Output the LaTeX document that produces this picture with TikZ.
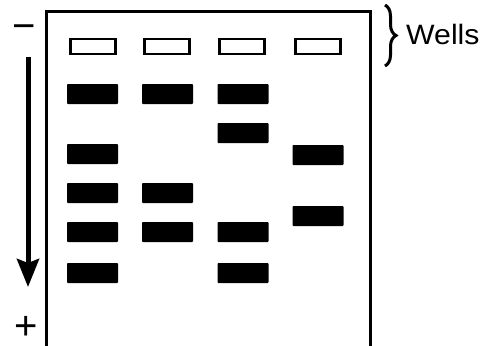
\documentclass[tikz,border=0pt]{standalone}
\usepackage{fontspec}
\setmainfont{Liberation Sans}
\usepackage{tikz}
\usetikzlibrary{positioning,arrows.meta,decorations.pathreplacing}

\begin{document}
\begin{tikzpicture}[x=1pt, y=-1pt,
    well/.style={draw, rectangle, line width=2.2pt, minimum width=45pt, minimum height=15pt, inner sep=0pt},
    band/.style={rectangle, fill=black, rounded corners=0.8pt, minimum width=51pt, minimum height=20pt, inner sep=0pt},
    sign/.style={inner sep=0pt, anchor=base, font=\fontsize{40}{44}\selectfont}]
    \useasboundingbox (0,0) rectangle (483,346);

    % gel, open at the bottom
    \coordinate (gbl) at (46,346);
    \coordinate (gtl) at (46,11);
    \coordinate (gtr) at (370,11);
    \coordinate (gbr) at (370,346);
    \draw[line width=3pt, line join=miter] (gbl) -- (gtl) -- (gtr) -- (gbr);

    % wells
    \node[well] (w1) at (93,46.5) {};
    \node[well] (w2) at (167,46.5) {};
    \node[well] (w3) at (242,46.5) {};
    \node[well] (w4) at (318,46.5) {};

    % bands, lane by lane
    \node[band] (b11) at (92.5,94) {};
    \node[band] (b12) at (92.5,154) {};
    \node[band] (b13) at (92.5,193) {};
    \node[band] (b14) at (92.5,232) {};
    \node[band] (b15) at (92.5,273) {};

    \node[band] (b21) at (167.5,94) {};
    \node[band] (b22) at (167.5,193) {};
    \node[band] (b23) at (167.5,232) {};

    \node[band] (b31) at (243,94) {};
    \node[band] (b32) at (243,133) {};
    \node[band] (b33) at (243,232) {};
    \node[band] (b34) at (243,273) {};

    \node[band] (b41) at (318,155) {};
    \node[band] (b42) at (318,216) {};

    % electrodes and direction of run
    \node[sign] (neg) at (24.5,39) {−};
    \node[sign] (pos) at (26,339) {+};
    \coordinate (runtop) at (28,57);
    \coordinate (runend) at (28,287);
    \draw[line width=5pt, -{Stealth[length=28pt, width=22pt, inset=4pt]}] (runtop) -- (runend);

    % label for the wells
    \coordinate (brtop) at (385,5);
    \coordinate (brbot) at (385,66);
    \draw[line width=3pt, decorate, decoration={brace, amplitude=11pt}] (brtop) -- (brbot);
    \node[anchor=west, inner sep=0pt, xscale=1.08, font=\fontsize{28}{32}\selectfont] (wells) at (406,34) {Wells};
\end{tikzpicture}
\end{document}
